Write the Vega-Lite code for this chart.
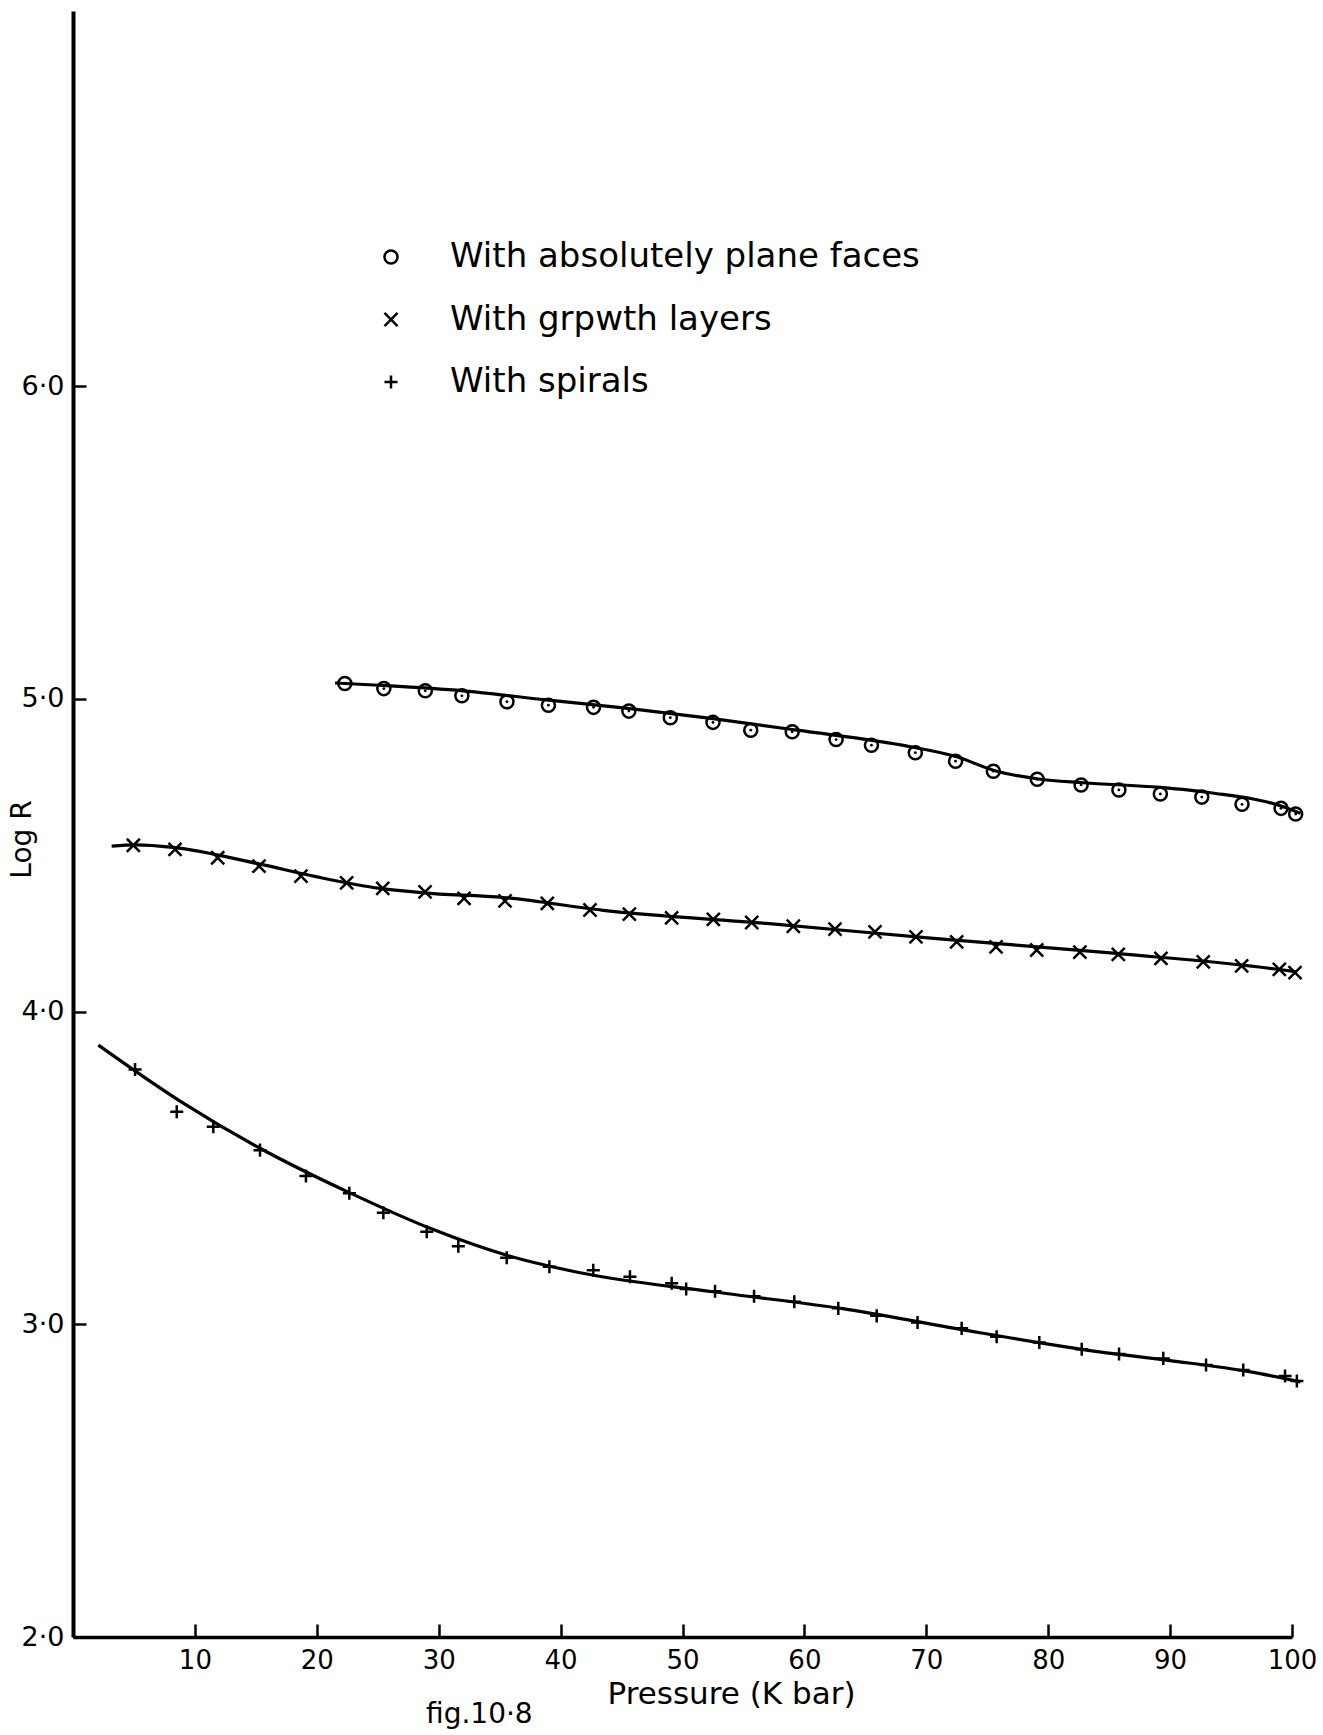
{
  "$schema": "https://vega.github.io/schema/vega-lite/v6.json",
  "width": 1219,
  "height": 1626,
  "autosize": {"type": "none"},
  "padding": {"left": 73, "top": 11, "right": 31, "bottom": 98},
  "background": "white",
  "config": {
    "view": {"stroke": null},
    "font": "DejaVu Sans",
    "axis": {
      "grid": false,
      "domainColor": "black",
      "tickColor": "black",
      "labelColor": "black",
      "titleColor": "black",
      "labelFont": "DejaVu Sans",
      "titleFont": "DejaVu Sans",
      "titleFontWeight": "normal"
    },
    "legend": {
      "orient": "none",
      "legendX": 301,
      "legendY": 229,
      "padding": 0,
      "labelFont": "DejaVu Sans",
      "labelFontSize": 34,
      "labelColor": "black",
      "labelLimit": 0,
      "labelOffset": 42,
      "rowPadding": 28.5,
      "symbolSize": 170,
      "symbolStrokeWidth": 2.5,
      "symbolStrokeColor": "black",
      "symbolFillColor": "transparent"
    }
  },
  "title": {
    "text": "fig.10·8",
    "orient": "bottom",
    "anchor": "start",
    "frame": "group",
    "dx": 353,
    "offset": -8,
    "fontSize": 28,
    "fontWeight": "normal",
    "font": "DejaVu Sans",
    "color": "black"
  },
  "datasets": {
    "curves": [
      {"series": "With absolutely plane faces", "p": 21.5, "r": 5.051},
      {"series": "With absolutely plane faces", "p": 25.5, "r": 5.043},
      {"series": "With absolutely plane faces", "p": 32.0, "r": 5.026},
      {"series": "With absolutely plane faces", "p": 39.0, "r": 4.996},
      {"series": "With absolutely plane faces", "p": 45.7, "r": 4.969},
      {"series": "With absolutely plane faces", "p": 52.5, "r": 4.937},
      {"series": "With absolutely plane faces", "p": 59.4, "r": 4.900},
      {"series": "With absolutely plane faces", "p": 68.7, "r": 4.847},
      {"series": "With absolutely plane faces", "p": 72.5, "r": 4.815},
      {"series": "With absolutely plane faces", "p": 75.5, "r": 4.772},
      {"series": "With absolutely plane faces", "p": 79.2, "r": 4.744},
      {"series": "With absolutely plane faces", "p": 82.9, "r": 4.732},
      {"series": "With absolutely plane faces", "p": 89.2, "r": 4.717},
      {"series": "With absolutely plane faces", "p": 93.3, "r": 4.700},
      {"series": "With absolutely plane faces", "p": 99.3, "r": 4.655},
      {"series": "With absolutely plane faces", "p": 100.7, "r": 4.634},
      {"series": "With grpwth layers", "p": 3.17, "r": 4.529},
      {"series": "With grpwth layers", "p": 5.2, "r": 4.533},
      {"series": "With grpwth layers", "p": 8.2, "r": 4.525},
      {"series": "With grpwth layers", "p": 15.07, "r": 4.474},
      {"series": "With grpwth layers", "p": 20.0, "r": 4.431},
      {"series": "With grpwth layers", "p": 25.2, "r": 4.394},
      {"series": "With grpwth layers", "p": 28.7, "r": 4.380},
      {"series": "With grpwth layers", "p": 35.3, "r": 4.365},
      {"series": "With grpwth layers", "p": 43.5, "r": 4.324},
      {"series": "With grpwth layers", "p": 56.9, "r": 4.282},
      {"series": "With grpwth layers", "p": 70.6, "r": 4.234},
      {"series": "With grpwth layers", "p": 85.6, "r": 4.186},
      {"series": "With grpwth layers", "p": 99.3, "r": 4.133},
      {"series": "With grpwth layers", "p": 100.4, "r": 4.127},
      {"series": "With spirals", "p": 2.08, "r": 3.893},
      {"series": "With spirals", "p": 8.78, "r": 3.714},
      {"series": "With spirals", "p": 15.34, "r": 3.563},
      {"series": "With spirals", "p": 22.67, "r": 3.421},
      {"series": "With spirals", "p": 29.29, "r": 3.307},
      {"series": "With spirals", "p": 35.58, "r": 3.221},
      {"series": "With spirals", "p": 41.6, "r": 3.165},
      {"series": "With spirals", "p": 52.5, "r": 3.104},
      {"series": "With spirals", "p": 63.5, "r": 3.048},
      {"series": "With spirals", "p": 74.4, "r": 2.973},
      {"series": "With spirals", "p": 84.2, "r": 2.912},
      {"series": "With spirals", "p": 90.0, "r": 2.884},
      {"series": "With spirals", "p": 96.6, "r": 2.848},
      {"series": "With spirals", "p": 100.7, "r": 2.816}
    ],
    "pts": [
      {"series": "With absolutely plane faces", "p": 22.3, "r": 5.049},
      {"series": "With absolutely plane faces", "p": 25.5, "r": 5.033},
      {"series": "With absolutely plane faces", "p": 28.9, "r": 5.026},
      {"series": "With absolutely plane faces", "p": 31.9, "r": 5.010},
      {"series": "With absolutely plane faces", "p": 35.6, "r": 4.991},
      {"series": "With absolutely plane faces", "p": 39.0, "r": 4.980},
      {"series": "With absolutely plane faces", "p": 42.7, "r": 4.973},
      {"series": "With absolutely plane faces", "p": 45.6, "r": 4.961},
      {"series": "With absolutely plane faces", "p": 49.0, "r": 4.940},
      {"series": "With absolutely plane faces", "p": 52.5, "r": 4.925},
      {"series": "With absolutely plane faces", "p": 55.6, "r": 4.900},
      {"series": "With absolutely plane faces", "p": 59.0, "r": 4.895},
      {"series": "With absolutely plane faces", "p": 62.6, "r": 4.870},
      {"series": "With absolutely plane faces", "p": 65.5, "r": 4.852},
      {"series": "With absolutely plane faces", "p": 69.1, "r": 4.828},
      {"series": "With absolutely plane faces", "p": 72.4, "r": 4.801},
      {"series": "With absolutely plane faces", "p": 75.5, "r": 4.769},
      {"series": "With absolutely plane faces", "p": 79.1, "r": 4.743},
      {"series": "With absolutely plane faces", "p": 82.7, "r": 4.725},
      {"series": "With absolutely plane faces", "p": 85.8, "r": 4.709},
      {"series": "With absolutely plane faces", "p": 89.2, "r": 4.696},
      {"series": "With absolutely plane faces", "p": 92.6, "r": 4.686},
      {"series": "With absolutely plane faces", "p": 95.9, "r": 4.663},
      {"series": "With absolutely plane faces", "p": 99.1, "r": 4.650},
      {"series": "With absolutely plane faces", "p": 100.3, "r": 4.632},
      {"series": "With grpwth layers", "p": 4.95, "r": 4.532},
      {"series": "With grpwth layers", "p": 8.37, "r": 4.519},
      {"series": "With grpwth layers", "p": 11.87, "r": 4.492},
      {"series": "With grpwth layers", "p": 15.26, "r": 4.465},
      {"series": "With grpwth layers", "p": 18.7, "r": 4.433},
      {"series": "With grpwth layers", "p": 22.45, "r": 4.412},
      {"series": "With grpwth layers", "p": 25.41, "r": 4.394},
      {"series": "With grpwth layers", "p": 28.88, "r": 4.383},
      {"series": "With grpwth layers", "p": 32.08, "r": 4.362},
      {"series": "With grpwth layers", "p": 35.44, "r": 4.354},
      {"series": "With grpwth layers", "p": 38.91, "r": 4.346},
      {"series": "With grpwth layers", "p": 42.41, "r": 4.325},
      {"series": "With grpwth layers", "p": 45.64, "r": 4.312},
      {"series": "With grpwth layers", "p": 49.11, "r": 4.300},
      {"series": "With grpwth layers", "p": 52.53, "r": 4.295},
      {"series": "With grpwth layers", "p": 55.68, "r": 4.285},
      {"series": "With grpwth layers", "p": 59.09, "r": 4.273},
      {"series": "With grpwth layers", "p": 62.51, "r": 4.264},
      {"series": "With grpwth layers", "p": 65.79, "r": 4.255},
      {"series": "With grpwth layers", "p": 69.15, "r": 4.239},
      {"series": "With grpwth layers", "p": 72.49, "r": 4.223},
      {"series": "With grpwth layers", "p": 75.72, "r": 4.207},
      {"series": "With grpwth layers", "p": 79.06, "r": 4.197},
      {"series": "With grpwth layers", "p": 82.6, "r": 4.190},
      {"series": "With grpwth layers", "p": 85.75, "r": 4.183},
      {"series": "With grpwth layers", "p": 89.25, "r": 4.170},
      {"series": "With grpwth layers", "p": 92.72, "r": 4.159},
      {"series": "With grpwth layers", "p": 95.87, "r": 4.146},
      {"series": "With grpwth layers", "p": 98.96, "r": 4.135},
      {"series": "With grpwth layers", "p": 100.25, "r": 4.125},
      {"series": "With spirals", "p": 5.09, "r": 3.815},
      {"series": "With spirals", "p": 8.51, "r": 3.680},
      {"series": "With spirals", "p": 11.51, "r": 3.632},
      {"series": "With spirals", "p": 15.34, "r": 3.557},
      {"series": "With spirals", "p": 19.11, "r": 3.474},
      {"series": "With spirals", "p": 22.67, "r": 3.419},
      {"series": "With spirals", "p": 25.46, "r": 3.357},
      {"series": "With spirals", "p": 29.02, "r": 3.296},
      {"series": "With spirals", "p": 31.61, "r": 3.250},
      {"series": "With spirals", "p": 35.58, "r": 3.213},
      {"series": "With spirals", "p": 39.08, "r": 3.184},
      {"series": "With spirals", "p": 42.68, "r": 3.173},
      {"series": "With spirals", "p": 45.69, "r": 3.152},
      {"series": "With spirals", "p": 49.11, "r": 3.131},
      {"series": "With spirals", "p": 50.3, "r": 3.113},
      {"series": "With spirals", "p": 52.67, "r": 3.106},
      {"series": "With spirals", "p": 55.87, "r": 3.090},
      {"series": "With spirals", "p": 59.17, "r": 3.072},
      {"series": "With spirals", "p": 62.78, "r": 3.051},
      {"series": "With spirals", "p": 65.93, "r": 3.027},
      {"series": "With spirals", "p": 69.28, "r": 3.006},
      {"series": "With spirals", "p": 72.9, "r": 2.987},
      {"series": "With spirals", "p": 75.77, "r": 2.960},
      {"series": "With spirals", "p": 79.27, "r": 2.942},
      {"series": "With spirals", "p": 82.75, "r": 2.920},
      {"series": "With spirals", "p": 85.81, "r": 2.905},
      {"series": "With spirals", "p": 89.44, "r": 2.891},
      {"series": "With spirals", "p": 92.95, "r": 2.870},
      {"series": "With spirals", "p": 96.0, "r": 2.854},
      {"series": "With spirals", "p": 99.43, "r": 2.835},
      {"series": "With spirals", "p": 100.4, "r": 2.819}
    ]
  },
  "layer": [
    {
      "data": {"name": "curves"},
      "mark": {"type": "line", "interpolate": "monotone", "color": "black", "strokeWidth": 3.2, "clip": false},
      "encoding": {
        "x": {
          "field": "p", "type": "quantitative",
          "scale": {"domain": [0, 100], "nice": false, "zero": false},
          "axis": {
            "values": [10, 20, 30, 40, 50, 60, 70, 80, 90, 100],
            "tickSize": -13,
            "tickWidth": 2.5,
            "domainWidth": 3.5,
            "labelFontSize": 26,
            "labelFlush": false,
            "labelPadding": 23,
            "title": "Pressure (K bar)",
            "titleFontSize": 31,
            "titleX": 658,
            "titleY": 57,
            "titleBaseline": "middle"
          }
        },
        "y": {
          "field": "r", "type": "quantitative",
          "scale": {"domain": [2, 7.2], "nice": false, "zero": false},
          "axis": {
            "values": [2, 3, 4, 5, 6],
            "tickSize": -13,
            "tickWidth": 2.5,
            "domainWidth": 4,
            "labelFontSize": 27,
            "labelFlush": false,
            "labelPadding": 22,
            "labelExpr": "replace(format(datum.value, '.1f'), '.', '·')",
            "title": "Log R",
            "titleFontSize": 28,
            "titleX": -51,
            "titleY": 828,
            "titleBaseline": "middle"
          }
        },
        "detail": {"field": "series"},
        "order": {"field": "p", "type": "quantitative"}
      }
    },
    {
      "data": {"name": "pts"},
      "mark": {"type": "point", "filled": false, "color": "black", "strokeWidth": 2.5, "size": 170, "opacity": 1, "clip": false},
      "encoding": {
        "x": {"field": "p", "type": "quantitative"},
        "y": {"field": "r", "type": "quantitative"},
        "shape": {
          "field": "series", "type": "nominal",
          "scale": {
            "domain": ["With absolutely plane faces", "With grpwth layers", "With spirals"],
            "range": ["circle", "M-1,-1L1,1M-1,1L1,-1", "M-1,0H1M0,-1V1"]
          },
          "legend": {"title": null}
        }
      }
    },
    {
      "data": {"name": "pts"},
      "transform": [{"filter": "datum.series == 'With absolutely plane faces'"}],
      "mark": {"type": "circle", "color": "black", "size": 8, "opacity": 1},
      "encoding": {
        "x": {"field": "p", "type": "quantitative"},
        "y": {"field": "r", "type": "quantitative"}
      }
    }
  ]
}
